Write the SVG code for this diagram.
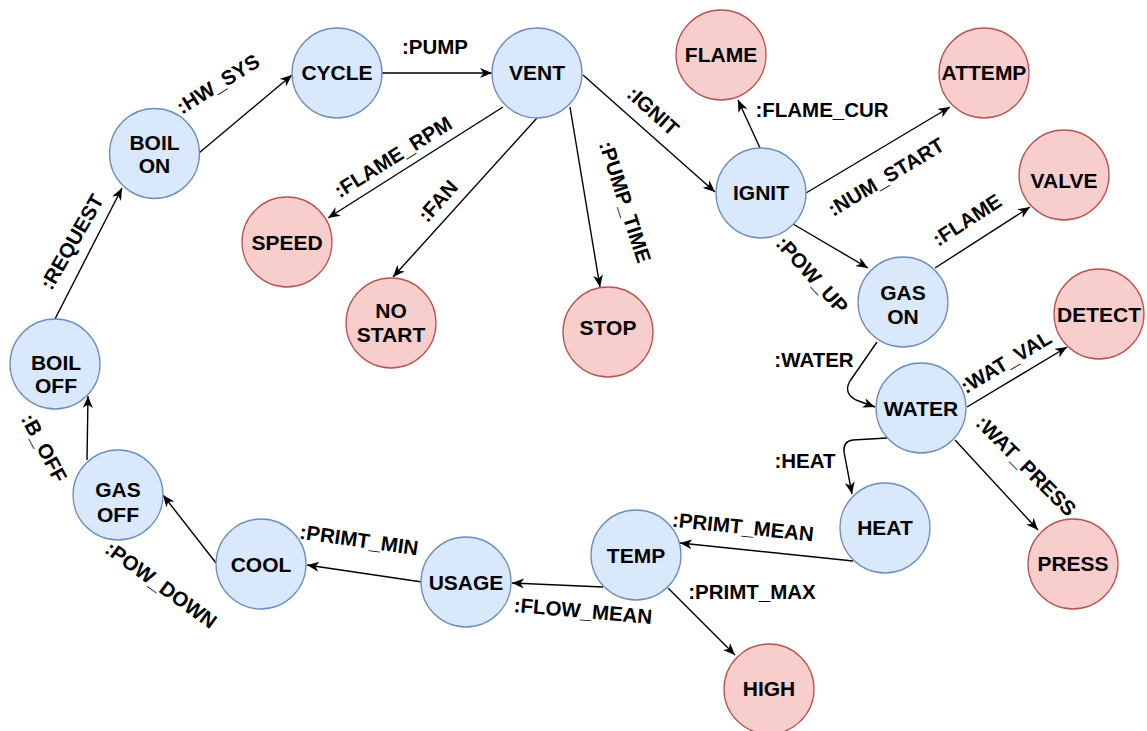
<svg xmlns="http://www.w3.org/2000/svg" width="1147" height="731" viewBox="0 0 1147 731">
  <style>
    .bg { fill: #ffffff; }
    .state circle { fill: #dae8fc; stroke: #6c8ebf; stroke-width: 1.3; }
    .alarm circle { fill: #f8cecc; stroke: #b85450; stroke-width: 1.3; }
    text { font-family: "Liberation Sans", Arial, Helvetica, sans-serif; font-weight: bold; font-size: 21px; fill: #000000; text-anchor: middle; }
    #connectors text { font-size: 20.5px; }
    .edge { fill: none; stroke: #000000; stroke-width: 1.4; marker-end: url(#arrow); }
  </style>
  <defs>
    <marker id="arrow" markerUnits="userSpaceOnUse" markerWidth="13" markerHeight="10" refX="12" refY="5" orient="auto">
      <path d="M0,0 L12,5 L0,10 L3.5,5 Z" fill="#000000"/>
    </marker>
  </defs>
  <rect class="bg" x="0" y="0" width="1147" height="731"/>

  <!-- connectors and their labels -->
  <g id="connectors">
    <path class="edge" d="M55,319 L122,188"/>
    <path class="edge" d="M199,153 L292,75"/>
    <path class="edge" d="M382,73 L492,73"/>
    <path class="edge" d="M503,107 L328,218"/>
    <path class="edge" d="M537,118 L393,277"/>
    <path class="edge" d="M570,107 L600,287"/>
    <path class="edge" d="M583,75 L715,192"/>
    <path class="edge" d="M760,148 L738,100"/>
    <path class="edge" d="M806,193 L950,107"/>
    <path class="edge" d="M793,224 L868,268"/>
    <path class="edge" d="M935,268 L1030,207"/>
    <path class="edge" d="M877,342 L850,381 Q843,393 856,400 L875,407"/>
    <path class="edge" d="M967,407 L1067,347"/>
    <path class="edge" d="M955,440 L1038,530"/>
    <path class="edge" d="M887,438 L853,440 Q843,441 844,452 L852,494"/>
    <path class="edge" d="M853,561 L680,543"/>
    <path class="edge" d="M603,587 L512,583"/>
    <path class="edge" d="M668,588 L735,655"/>
    <path class="edge" d="M422,582 L307,565"/>
    <path class="edge" d="M216,563 L163,495"/>
    <path class="edge" d="M87,460 L88,396"/>

    <text transform="translate(435,47)" y="7">:PUMP</text>
    <text transform="translate(218,84) rotate(-32)" y="7">:HW_SYS</text>
    <text transform="translate(72,242) rotate(-60)" y="7">:REQUEST</text>
    <text transform="translate(393,157) rotate(-32)" y="7">:FLAME_RPM</text>
    <text transform="translate(438,201) rotate(-48)" y="7">:FAN</text>
    <text transform="translate(625,202) rotate(72)" y="7">:PUMP_TIME</text>
    <text transform="translate(653,111) rotate(42)" y="7">:IGNIT</text>
    <text transform="translate(822,110)" y="7">:FLAME_CUR</text>
    <text transform="translate(886,177) rotate(-31)" y="7">:NUM_START</text>
    <text transform="translate(812,275) rotate(48)" y="7">:POW_UP</text>
    <text transform="translate(967,220) rotate(-33)" y="7">:FLAME</text>
    <text transform="translate(814,360)" y="7">:WATER</text>
    <text transform="translate(1006,362) rotate(-31)" y="7">:WAT_VAL</text>
    <text transform="translate(1026,466) rotate(45)" y="7">:WAT_PRESS</text>
    <text transform="translate(805,461)" y="7">:HEAT</text>
    <text transform="translate(743,527) rotate(6)" y="7">:PRIMT_MEAN</text>
    <text transform="translate(583,611) rotate(5)" y="7">:FLOW_MEAN</text>
    <text transform="translate(752,592)" y="7">:PRIMT_MAX</text>
    <text transform="translate(359,540) rotate(8)" y="7">:PRIMT_MIN</text>
    <text transform="translate(161,585) rotate(36)" y="7">:POW_DOWN</text>
    <text transform="translate(44,448) rotate(62)" y="7">:B_OFF</text>
  </g>

  <!-- main cycle states -->
  <g id="boil-on" class="state"><circle cx="154.5" cy="153.5" r="45"/><text x="154.5" y="150">BOIL</text><text x="154.5" y="173">ON</text></g>
  <g id="cycle" class="state"><circle cx="337" cy="73" r="45"/><text x="337" y="80">CYCLE</text></g>
  <g id="vent" class="state"><circle cx="537" cy="73" r="45"/><text x="537" y="80">VENT</text></g>
  <g id="ignit" class="state"><circle cx="761" cy="193" r="45"/><text x="761" y="200">IGNIT</text></g>
  <g id="gas-on" class="state"><circle cx="903" cy="302" r="45"/><text x="903" y="300">GAS</text><text x="903" y="324">ON</text></g>
  <g id="water" class="state"><circle cx="921" cy="408" r="45"/><text x="921" y="416">WATER</text></g>
  <g id="heat" class="state"><circle cx="885" cy="528" r="45"/><text x="885" y="535">HEAT</text></g>
  <g id="temp" class="state"><circle cx="636" cy="555" r="45"/><text x="636" y="563">TEMP</text></g>
  <g id="usage" class="state"><circle cx="466" cy="582" r="45"/><text x="466" y="590">USAGE</text></g>
  <g id="cool" class="state"><circle cx="261" cy="564" r="45"/><text x="261" y="572">COOL</text></g>
  <g id="gas-off" class="state"><circle cx="118" cy="495" r="45"/><text x="118" y="497">GAS</text><text x="118" y="522">OFF</text></g>
  <g id="boil-off" class="state"><circle cx="55" cy="364" r="45"/><text x="56" y="370">BOIL</text><text x="56" y="393">OFF</text></g>

  <!-- fault / check states -->
  <g id="flame" class="alarm"><circle cx="721" cy="55" r="45"/><text x="721" y="62">FLAME</text></g>
  <g id="attemp" class="alarm"><circle cx="984" cy="73" r="45"/><text x="984" y="80">ATTEMP</text></g>
  <g id="valve" class="alarm"><circle cx="1064" cy="175" r="45"/><text x="1064" y="188">VALVE</text></g>
  <g id="speed" class="alarm"><circle cx="287" cy="242" r="45"/><text x="287" y="250">SPEED</text></g>
  <g id="no-start" class="alarm"><circle cx="391" cy="323" r="45"/><text x="391" y="318">NO</text><text x="391" y="342">START</text></g>
  <g id="stop" class="alarm"><circle cx="608" cy="332" r="45"/><text x="608" y="335">STOP</text></g>
  <g id="detect" class="alarm"><circle cx="1099" cy="314" r="45"/><text x="1099" y="322">DETECT</text></g>
  <g id="press" class="alarm"><circle cx="1073" cy="564" r="45"/><text x="1073" y="571">PRESS</text></g>
  <g id="high" class="alarm"><circle cx="769" cy="689" r="45"/><text x="769" y="696">HIGH</text></g>
</svg>
